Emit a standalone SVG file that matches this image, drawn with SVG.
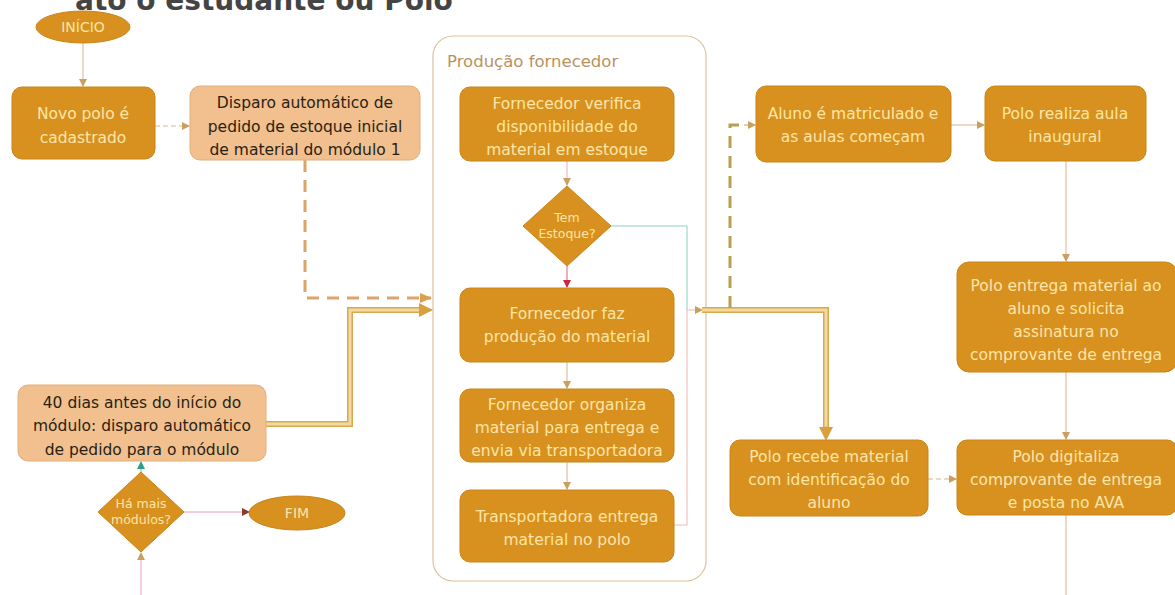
<svg xmlns="http://www.w3.org/2000/svg" width="1175" height="595" viewBox="0 0 1175 595">
<style>
.dk{fill:#D8901F;stroke:#C98418;stroke-width:1}
.lt{fill:#F1C08E;stroke:#E2AE78;stroke-width:1}
.tw{font-family:"DejaVu Sans",sans-serif;font-size:15.5px;fill:#FBE6A8;text-anchor:middle}
.tb{font-family:"DejaVu Sans",sans-serif;font-size:15.5px;fill:#2a1f14;text-anchor:middle}
.thin{fill:none;stroke:#D9B48C;stroke-width:1}
</style>
<defs>
<marker id="a" markerWidth="8" markerHeight="8" refX="7" refY="4" orient="auto" markerUnits="userSpaceOnUse"><path d="M0,0 L8,4 L0,8 Z" fill="#C9A060"/></marker>
<marker id="ar" markerWidth="8" markerHeight="8" refX="7" refY="4" orient="auto" markerUnits="userSpaceOnUse"><path d="M0,0 L8,4 L0,8 Z" fill="#C8283A"/></marker>
<marker id="am" markerWidth="8" markerHeight="8" refX="7" refY="4" orient="auto" markerUnits="userSpaceOnUse"><path d="M0,0 L8,4 L0,8 Z" fill="#8C3A2A"/></marker>
<marker id="at" markerWidth="8" markerHeight="8" refX="7" refY="4" orient="auto" markerUnits="userSpaceOnUse"><path d="M0,0 L8,4 L0,8 Z" fill="#2E9E86"/></marker>
<marker id="ab" markerWidth="14" markerHeight="14" refX="13" refY="7" orient="auto" markerUnits="userSpaceOnUse"><path d="M0,0 L14,7 L0,14 Z" fill="#D9A040"/></marker>
<marker id="ad" markerWidth="12" markerHeight="12" refX="11" refY="6" orient="auto" markerUnits="userSpaceOnUse"><path d="M0,1 L12,6 L0,11 Z" fill="#D9A050"/></marker>
</defs>

<text x="75" y="10" font-family="DejaVu Sans,sans-serif" font-size="28" font-weight="bold" fill="#444444">ato o estudante ou Polo</text>

<g id="lane">
<rect x="433" y="36" width="273" height="545" rx="20" fill="none" stroke="#DCC29E" stroke-width="1.2"/>
<text x="447" y="67" font-family="DejaVu Sans,sans-serif" font-size="16.5" fill="#B8925E">Produção fornecedor</text>
</g>

<g id="connectors">
<path class="thin" d="M83,43 V86" marker-end="url(#a)"/>
<path class="thin" d="M155,126 H189" stroke-dasharray="5,3" marker-end="url(#a)"/>
<path d="M305,160 V298 H431" fill="none" stroke="#DDA46A" stroke-width="3" stroke-dasharray="12,8" marker-end="url(#ad)"/>
<path d="M266,424 H350 V310 H420" fill="none" stroke="#D9A850" stroke-width="6"/>
<path d="M266,424 H350 V310 H420" fill="none" stroke="#F2D9A0" stroke-width="3"/>
<path d="M420,310 H432" fill="none" stroke="#D9A040" stroke-width="1" marker-end="url(#ab)"/>
<path d="M141,472 V462" fill="none" stroke="#5FBFA5" stroke-width="1" marker-end="url(#at)"/>
<path d="M184,512 H249" fill="none" stroke="#E8A0B8" stroke-width="1" marker-end="url(#am)"/>
<path d="M141,595 V553" fill="none" stroke="#F0A0B8" stroke-width="1" marker-end="url(#a)"/>
<path d="M567,161 V185" fill="none" stroke="#F0A8B8" stroke-width="1" marker-end="url(#a)"/>
<path d="M567,266 V287" fill="none" stroke="#E06070" stroke-width="1" marker-end="url(#ar)"/>
<path class="thin" d="M567,362 V388" marker-end="url(#a)"/>
<path class="thin" d="M567,462 V489" marker-end="url(#a)"/>
<path d="M611,226 H687 V310" fill="none" stroke="#8ED0BC" stroke-width="1"/>
<path d="M674,525 H687 V310 H702" fill="none" stroke="#F0B8B0" stroke-width="1" marker-end="url(#a)"/>
<path d="M702,310 H826 V428" fill="none" stroke="#D9A850" stroke-width="6"/>
<path d="M702,310 H826 V428" fill="none" stroke="#F2D9A0" stroke-width="3"/>
<path d="M826,426 V440" fill="none" stroke="#D9A040" stroke-width="1" marker-end="url(#ab)"/>
<path d="M730,308 V125 H745" fill="none" stroke="#B8A050" stroke-width="3" stroke-dasharray="12,8"/>
<path d="M744,125 H755" fill="none" stroke="#C9A060" stroke-width="1" marker-end="url(#a)"/>
<path class="thin" d="M951,125 H984" marker-end="url(#a)"/>
<path class="thin" d="M1066,161 V261" marker-end="url(#a)"/>
<path class="thin" d="M1066,372 V439" marker-end="url(#a)"/>
<path class="thin" d="M928,479 H956" stroke-dasharray="5,3" marker-end="url(#a)"/>
<path class="thin" d="M1066,515 V595"/>
</g>

<g id="inicio">
<ellipse cx="83" cy="27" rx="47" ry="16" class="dk"/>
<text x="83" y="32" class="tw" style="font-size:14px">INÍCIO</text>
</g>
<g id="novo-polo">
<rect x="12" y="87" width="143" height="72" rx="10" class="dk"/>
<text class="tw"><tspan x="83" y="119">Novo polo é</tspan><tspan x="83" y="143">cadastrado</tspan></text>
</g>
<g id="disparo-inicial">
<rect x="190" y="86" width="230" height="74" rx="10" class="lt"/>
<text class="tb"><tspan x="305" y="108">Disparo automático de</tspan><tspan x="305" y="132">pedido de estoque inicial</tspan><tspan x="305" y="155">de material do módulo 1</tspan></text>
</g>
<g id="quarenta-dias">
<rect x="18" y="385" width="248" height="76" rx="10" class="lt"/>
<text class="tb"><tspan x="142" y="408">40 dias antes do início do</tspan><tspan x="142" y="431">módulo: disparo automático</tspan><tspan x="142" y="455">de pedido para o módulo</tspan></text>
</g>
<g id="ha-mais">
<path d="M141,472 L184,512 L141,552 L98,512 Z" class="dk"/>
<text class="tw" style="font-size:12.5px"><tspan x="141" y="508">Há mais</tspan><tspan x="141" y="524">módulos?</tspan></text>
</g>
<g id="fim">
<ellipse cx="297" cy="513" rx="48" ry="17" class="dk"/>
<text x="297" y="518" class="tw" style="font-size:14px">FIM</text>
</g>
<g id="verifica">
<rect x="460" y="87" width="214" height="74" rx="10" class="dk"/>
<text class="tw"><tspan x="567" y="109">Fornecedor verifica</tspan><tspan x="567" y="132">disponibilidade do</tspan><tspan x="567" y="155">material em estoque</tspan></text>
</g>
<g id="tem-estoque">
<path d="M567,186 L611,226 L567,266 L523,226 Z" class="dk"/>
<text class="tw" style="font-size:12.5px"><tspan x="567" y="222">Tem</tspan><tspan x="567" y="238">Estoque?</tspan></text>
</g>
<g id="producao">
<rect x="460" y="288" width="214" height="74" rx="10" class="dk"/>
<text class="tw"><tspan x="567" y="319">Fornecedor faz</tspan><tspan x="567" y="342">produção do material</tspan></text>
</g>
<g id="organiza">
<rect x="460" y="389" width="214" height="73" rx="10" class="dk"/>
<text class="tw"><tspan x="567" y="410">Fornecedor organiza</tspan><tspan x="567" y="433">material para entrega e</tspan><tspan x="567" y="456">envia via transportadora</tspan></text>
</g>
<g id="transportadora">
<rect x="460" y="490" width="214" height="72" rx="10" class="dk"/>
<text class="tw"><tspan x="567" y="522">Transportadora entrega</tspan><tspan x="567" y="545">material no polo</tspan></text>
</g>
<g id="aluno-matriculado">
<rect x="756" y="86" width="195" height="76" rx="10" class="dk"/>
<text class="tw"><tspan x="853" y="119">Aluno é matriculado e</tspan><tspan x="853" y="142">as aulas começam</tspan></text>
</g>
<g id="aula-inaugural">
<rect x="985" y="86" width="161" height="75" rx="10" class="dk"/>
<text class="tw"><tspan x="1065" y="119">Polo realiza aula</tspan><tspan x="1065" y="142">inaugural</tspan></text>
</g>
<g id="entrega-material">
<rect x="957" y="262" width="220" height="110" rx="12" class="dk"/>
<text class="tw"><tspan x="1066" y="291">Polo entrega material ao</tspan><tspan x="1066" y="314">aluno e solicita</tspan><tspan x="1066" y="337">assinatura no</tspan><tspan x="1066" y="360">comprovante de entrega</tspan></text>
</g>
<g id="recebe-material">
<rect x="730" y="440" width="198" height="76" rx="10" class="dk"/>
<text class="tw"><tspan x="829" y="462">Polo recebe material</tspan><tspan x="829" y="485">com identificação do</tspan><tspan x="829" y="508">aluno</tspan></text>
</g>
<g id="digitaliza">
<rect x="957" y="440" width="220" height="75" rx="10" class="dk"/>
<text class="tw"><tspan x="1066" y="462">Polo digitaliza</tspan><tspan x="1066" y="485">comprovante de entrega</tspan><tspan x="1066" y="508">e posta no AVA</tspan></text>
</g>
</svg>
